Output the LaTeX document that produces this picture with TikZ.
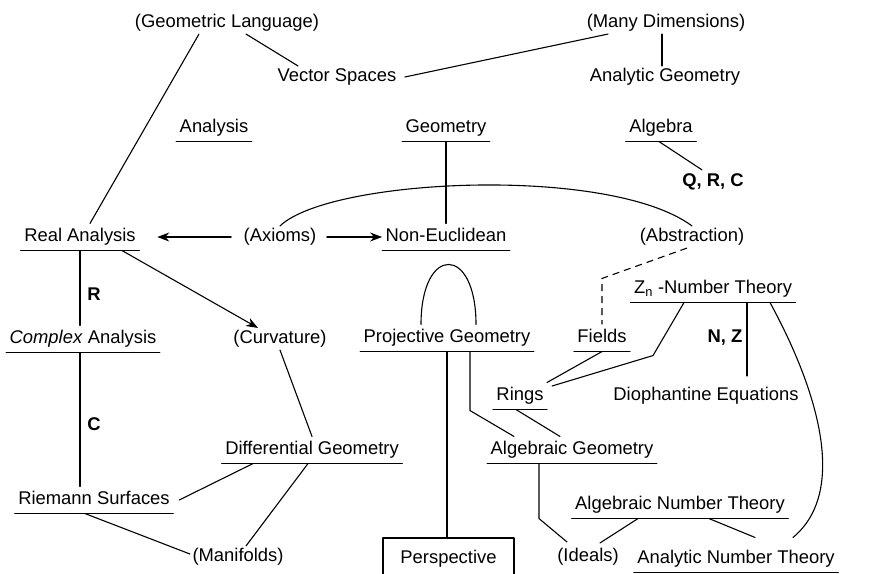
\documentclass[tikz,border=0pt]{standalone}
\usepackage{fontspec}
\setmainfont{Liberation Sans}
\usetikzlibrary{arrows.meta}
\tikzstyle{every node}=[font=\fontsize{18.4}{22}\selectfont]
\tikzstyle{every path}=[line width=1.1pt,line cap=round,line join=round]
\tikzstyle{topic}=[inner sep=2pt,text height=13pt,text depth=4pt]
\tikzstyle{ulined}=[topic,inner xsep=3pt,inner ysep=4.5pt,
    append after command={(\tikzlastnode.south west) edge (\tikzlastnode.south east)}]
\tikzstyle{tag}=[font=\fontsize{18.4}{22}\selectfont\bfseries]
\tikzstyle{arr}=[-{Stealth[length=12pt,width=9pt]}]
\tikzstyle{loose}=[line cap=butt,dash pattern=on 7pt off 5pt]

\begin{document}
\begin{tikzpicture}[x=1pt,y=-1pt]
    \useasboundingbox (0,0) rectangle (869,573);

    % Top row (not underlined)
    \node[topic] (geolang) at (227,23) {(Geometric Language)};
    \node[topic] (vecsp) at (337,77) {Vector Spaces};
    \node[topic] (manydim) at (666,23) {(Many Dimensions)};
    \node[topic] (anageo) at (665,77) {Analytic Geometry};

    % Main fields
    \node[ulined] (analysis) at (214,128) {Analysis};
    \node[ulined] (geometry) at (446,128) {Geometry};
    \node[ulined] (algebra) at (661,128) {Algebra};
    \node[tag] (qrc) at (713,182) {Q, R, C};

    % Middle rows
    \node[ulined] (realan) at (80,237) {Real Analysis};
    \node[topic] (axioms) at (280,237) {(Axioms)};
    \node[ulined] (noneuc) at (446,237) {Non-Euclidean};
    \node[topic] (abstr) at (692,237) {(Abstraction)};
    \node[ulined] (zn) at (713,289) {Z\textsubscript{n} -Number Theory};
    \node[ulined] (complex) at (83,339) {\textit{Complex} Analysis};
    \node[topic] (curv) at (280,339) {(Curvature)};
    \node[ulined] (projgeo) at (447,338) {Projective Geometry};
    \node[ulined] (fields) at (602,338) {Fields};
    \node[ulined] (rings) at (520,396) {Rings};
    \node[topic] (dioph) at (706,396) {Diophantine Equations};
    \node[tag] (labR) at (94,294) {R};
    \node[tag] (labC) at (94,424) {C};
    \node[tag] (labNZ) at (725,338) {N, Z};

    % Bottom rows
    \node[ulined] (diffgeo) at (312,450) {Differential Geometry};
    \node[ulined] (alggeo) at (572,450) {Algebraic Geometry};
    \node[ulined] (riemann) at (94,500) {Riemann Surfaces};
    \node[ulined] (algnt) at (680,505) {Algebraic Number Theory};
    \node[topic] (manif) at (238,557) {(Manifolds)};
    \node[topic] (ideals) at (588,557) {(Ideals)};
    \node[ulined] (analnt) at (736,559) {Analytic Number Theory};
    \node[draw,topic,minimum width=131pt,minimum height=42pt] (persp) at (448.5,559) {Perspective};

    % Connections at the top
    \draw ([xshift=19pt]geolang.south) -- ([xshift=-39pt]vecsp.north);
    \draw ([xshift=-28pt]geolang.south) -- ([xshift=10pt]realan.north);
    \draw ([xshift=6pt]vecsp.east) -- ([xshift=-58pt]manydim.south);
    \draw ([xshift=-4pt]manydim.south) -- ([xshift=-4pt]manydim.south |- anageo.north);
    \draw ([xshift=-2pt]algebra.south) -- ([xshift=-11pt]qrc.north);
    \draw (geometry.south) -- (noneuc.north);
    \draw (axioms.north) .. controls (330,178) and (610,165) .. (abstr.north);

    % Arrows from the axioms
    \draw[arr,shorten <=10pt,shorten >=18pt] (axioms.west) -- (realan.east);
    \draw[arr,shorten <=8pt] (axioms.east) -- (noneuc.west);
    \draw[arr] ([xshift=42pt]realan.south) -- ([xshift=-22pt]curv.north);

    % Analysis side
    \draw (realan.south) -- (realan.south |- complex.north);
    \draw (realan.south |- complex.south) -- (realan.south |- riemann.north);
    \draw (curv.south) -- (diffgeo.north);
    \draw ([xshift=6pt]riemann.east) -- ([xshift=-59pt]diffgeo.south);
    \draw ([xshift=-4pt]diffgeo.south) -- ([xshift=8pt]manif.north);
    \draw ([xshift=-9pt]riemann.south) -- ([yshift=3pt]manif.west);

    % Geometry side
    \draw ([xshift=-26pt]projgeo.north) .. controls +(0,-80) and +(0,-80) .. ([xshift=29pt]projgeo.north);
    \draw (projgeo.south) -- (projgeo.south |- persp.north);
    \draw ([xshift=23pt]projgeo.south) -- ++(0,59) -- ([xshift=-58pt]alggeo.north);
    \draw[loose] ([xshift=-5pt]abstr.south) -- ([yshift=46pt]fields.north) -- (fields.north);
    \draw (fields.south) -- (rings.north east);
    \draw ([xshift=-29pt]zn.south) -- ++(-31,53) -- ([xshift=5pt,yshift=10pt]rings.east);
    \draw ([xshift=-4pt]rings.south) -- ([xshift=-12pt]alggeo.north);

    % Number theory side
    \draw ([xshift=34pt]zn.south) -- ([xshift=41pt,yshift=9pt]dioph.north);
    \draw ([xshift=57pt]zn.south) .. controls (815,385) and (850,490) .. ([xshift=57pt,yshift=8pt]analnt.north);
    \draw ([xshift=-33pt]alggeo.south) -- ++(0,55) -- ([xshift=-21pt,yshift=4pt]ideals.north);
    \draw ([xshift=-42pt]algnt.south) -- ([xshift=12pt,yshift=3pt]ideals.north);
    \draw ([xshift=29pt]algnt.south) -- ([xshift=19pt,yshift=8pt]analnt.north);

\end{tikzpicture}
\end{document}
